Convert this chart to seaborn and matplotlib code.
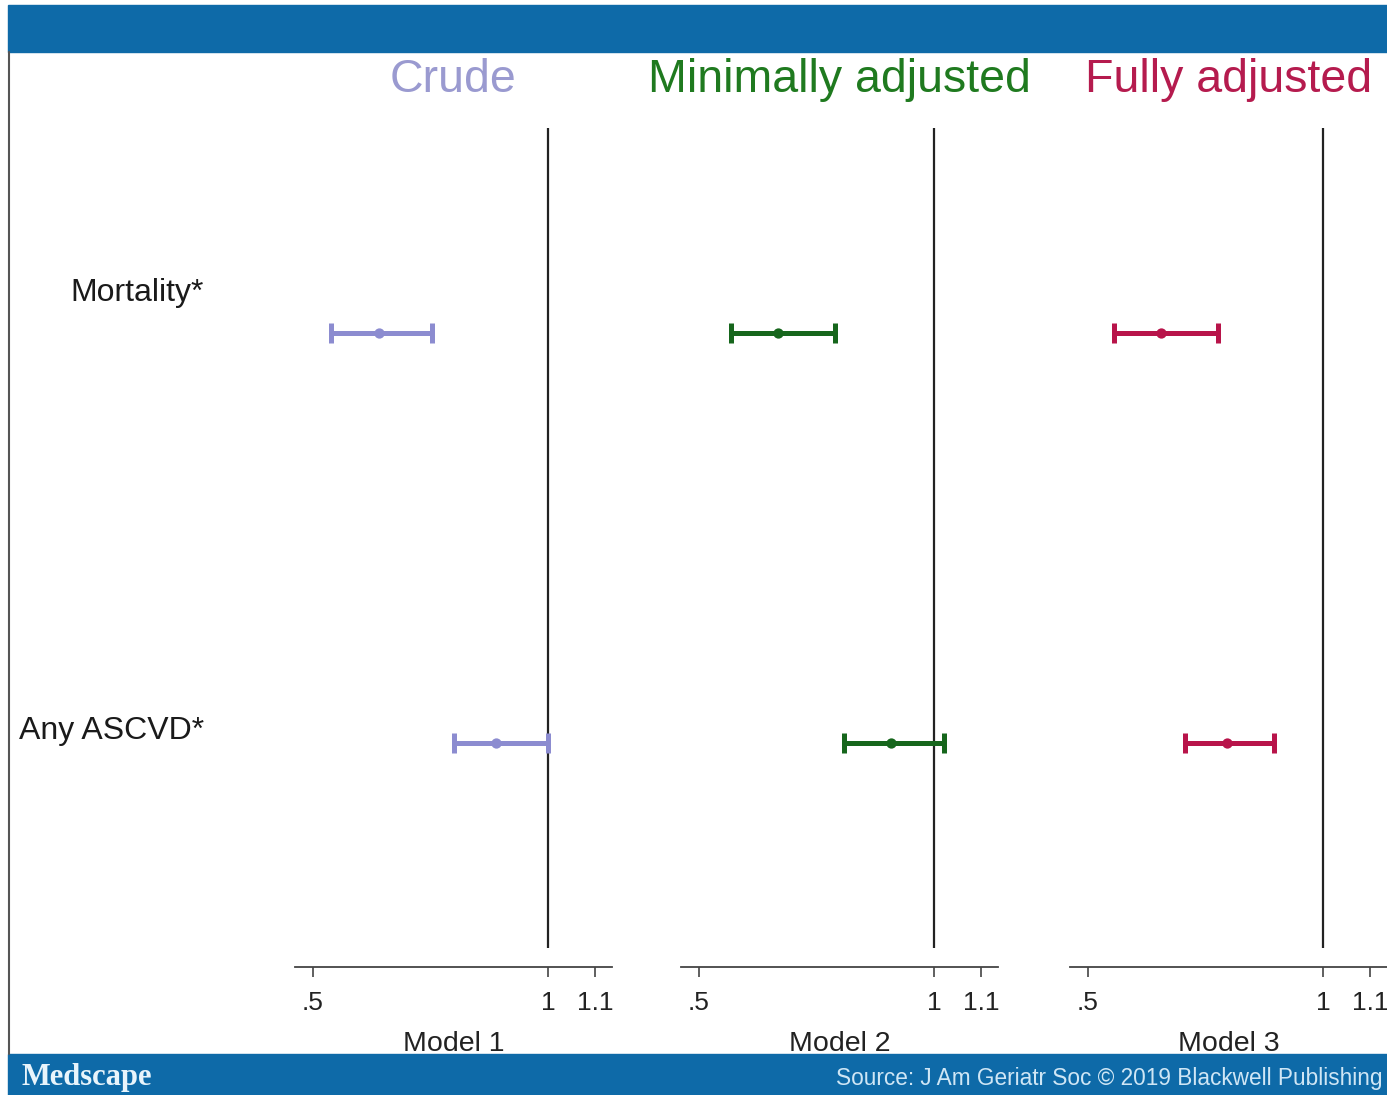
import matplotlib
matplotlib.use("Agg")
import matplotlib.pyplot as plt
import seaborn as sns
import pandas as pd
import numpy as np
from matplotlib.patches import Rectangle
from matplotlib.lines import Line2D

# ---------------- data ----------------
outcomes = ["Mortality*", "Any ASCVD*"]
models = ["Model 1", "Model 2", "Model 3"]
titles = ["Crude", "Minimally adjusted", "Fully adjusted"]
hr_est = [[0.640, 0.889], [0.668, 0.909], [0.655, 0.796]]
hr_lo = [[0.538, 0.800], [0.568, 0.809], [0.555, 0.706]]
hr_hi = [[0.753, 1.000], [0.789, 1.021], [0.777, 0.896]]
tick_vals = [0.5, 1, 1.1]
tick_labels = [".5", "1", "1.1"]

# ---------------- style ----------------
sns.set_theme(style="white")
plt.rcParams['font.family'] = ['Liberation Sans', 'DejaVu Sans']

colors = ["#8c8cd0", "#16661c", "#b8144a"]
title_colors = ["#9a9ad0", "#1f7a1f", "#b51b4e"]
band = "#0e6aa8"

W, H = 1387, 1095
fig = plt.figure(figsize=(W / 100, H / 100), dpi=100)
fig.patch.set_facecolor("white")

def fx(px):
    return px / W

def fy(py):
    return 1 - py / H

# header / footer bands and left border
fig.add_artist(Rectangle((fx(8), fy(52)), 1 - fx(8), fy(5) - fy(52),
                         transform=fig.transFigure, color=band, zorder=0))
fig.add_artist(Rectangle((fx(8), 0), 1 - fx(8), fy(1054),
                         transform=fig.transFigure, color=band, zorder=0))
fig.add_artist(Line2D([fx(8.5), fx(8.5)], [fy(1054), fy(52)],
                      transform=fig.transFigure, color="#555555", lw=1.5))

panel_left = [295, 681, 1070]
panel_w = 317
top_px, bot_px = 128, 948

rows = []
for m, model in enumerate(models):
    for o, outc in enumerate(outcomes):
        rows.append(dict(model=model, outcome=outc, ypos=o,
                         est=hr_est[m][o], lo=hr_lo[m][o], hi=hr_hi[m][o]))
df = pd.DataFrame(rows)

for m, model in enumerate(models):
    ax = fig.add_axes([fx(panel_left[m]), fy(bot_px), fx(panel_w), (bot_px - top_px) / H])
    ax.set_facecolor("none")
    sub = df[df.model == model]
    ax.axvline(1, color="#222222", lw=1.6, zorder=1)
    ax.errorbar(sub.est, sub.ypos, xerr=[sub.est - sub.lo, sub.hi - sub.est],
                fmt="none", ecolor=colors[m], elinewidth=3.6, capsize=7,
                capthick=3.6, zorder=3)
    sns.scatterplot(data=sub, x="est", y="ypos", color=colors[m], s=55,
                    edgecolor=colors[m], linewidth=0, ax=ax, zorder=4, legend=False)
    ax.set_xlim(0.4617, 1.136)
    ax.set_ylim(1.5, -0.5)
    ax.set_yticks([])
    ax.set_ylabel("")
    for s in ["top", "right", "left"]:
        ax.spines[s].set_visible(False)
    ax.spines["bottom"].set_position(("outward", 13.7))
    ax.spines["bottom"].set_color("#444444")
    ax.spines["bottom"].set_linewidth(1.3)
    ax.set_xticks(tick_vals)
    ax.set_xticklabels(tick_labels)
    ax.tick_params(axis="x", direction="out", length=7, width=1.2, color="#444444",
                   labelsize=19, labelcolor="#222222", pad=10, bottom=True)
    ax.set_xlabel(model, fontsize=20.5, color="#222222", labelpad=12)
    fig.text(fx(panel_left[m] + panel_w / 2), fy(80), titles[m], fontsize=33.5,
             color=title_colors[m], ha="center", va="center")

# outcome labels
label_y = [293, 731]
for o, outc in enumerate(outcomes):
    fig.text(fx(204), fy(label_y[o]), outc, fontsize=23, color="#1a1a1a",
             ha="right", va="center")

fig.text(fx(22), fy(1077), "Medscape", fontsize=22, family="Liberation Serif",
         color="#e8f4fb", ha="left", va="center", fontweight="bold")
fig.text(fx(1383), fy(1078), "Source: J Am Geriatr Soc \u00a9 2019 Blackwell Publishing",
         fontsize=16.3, color="#cfe6f5", ha="right", va="center")

fig.savefig("out.png", dpi=100, facecolor="white")
